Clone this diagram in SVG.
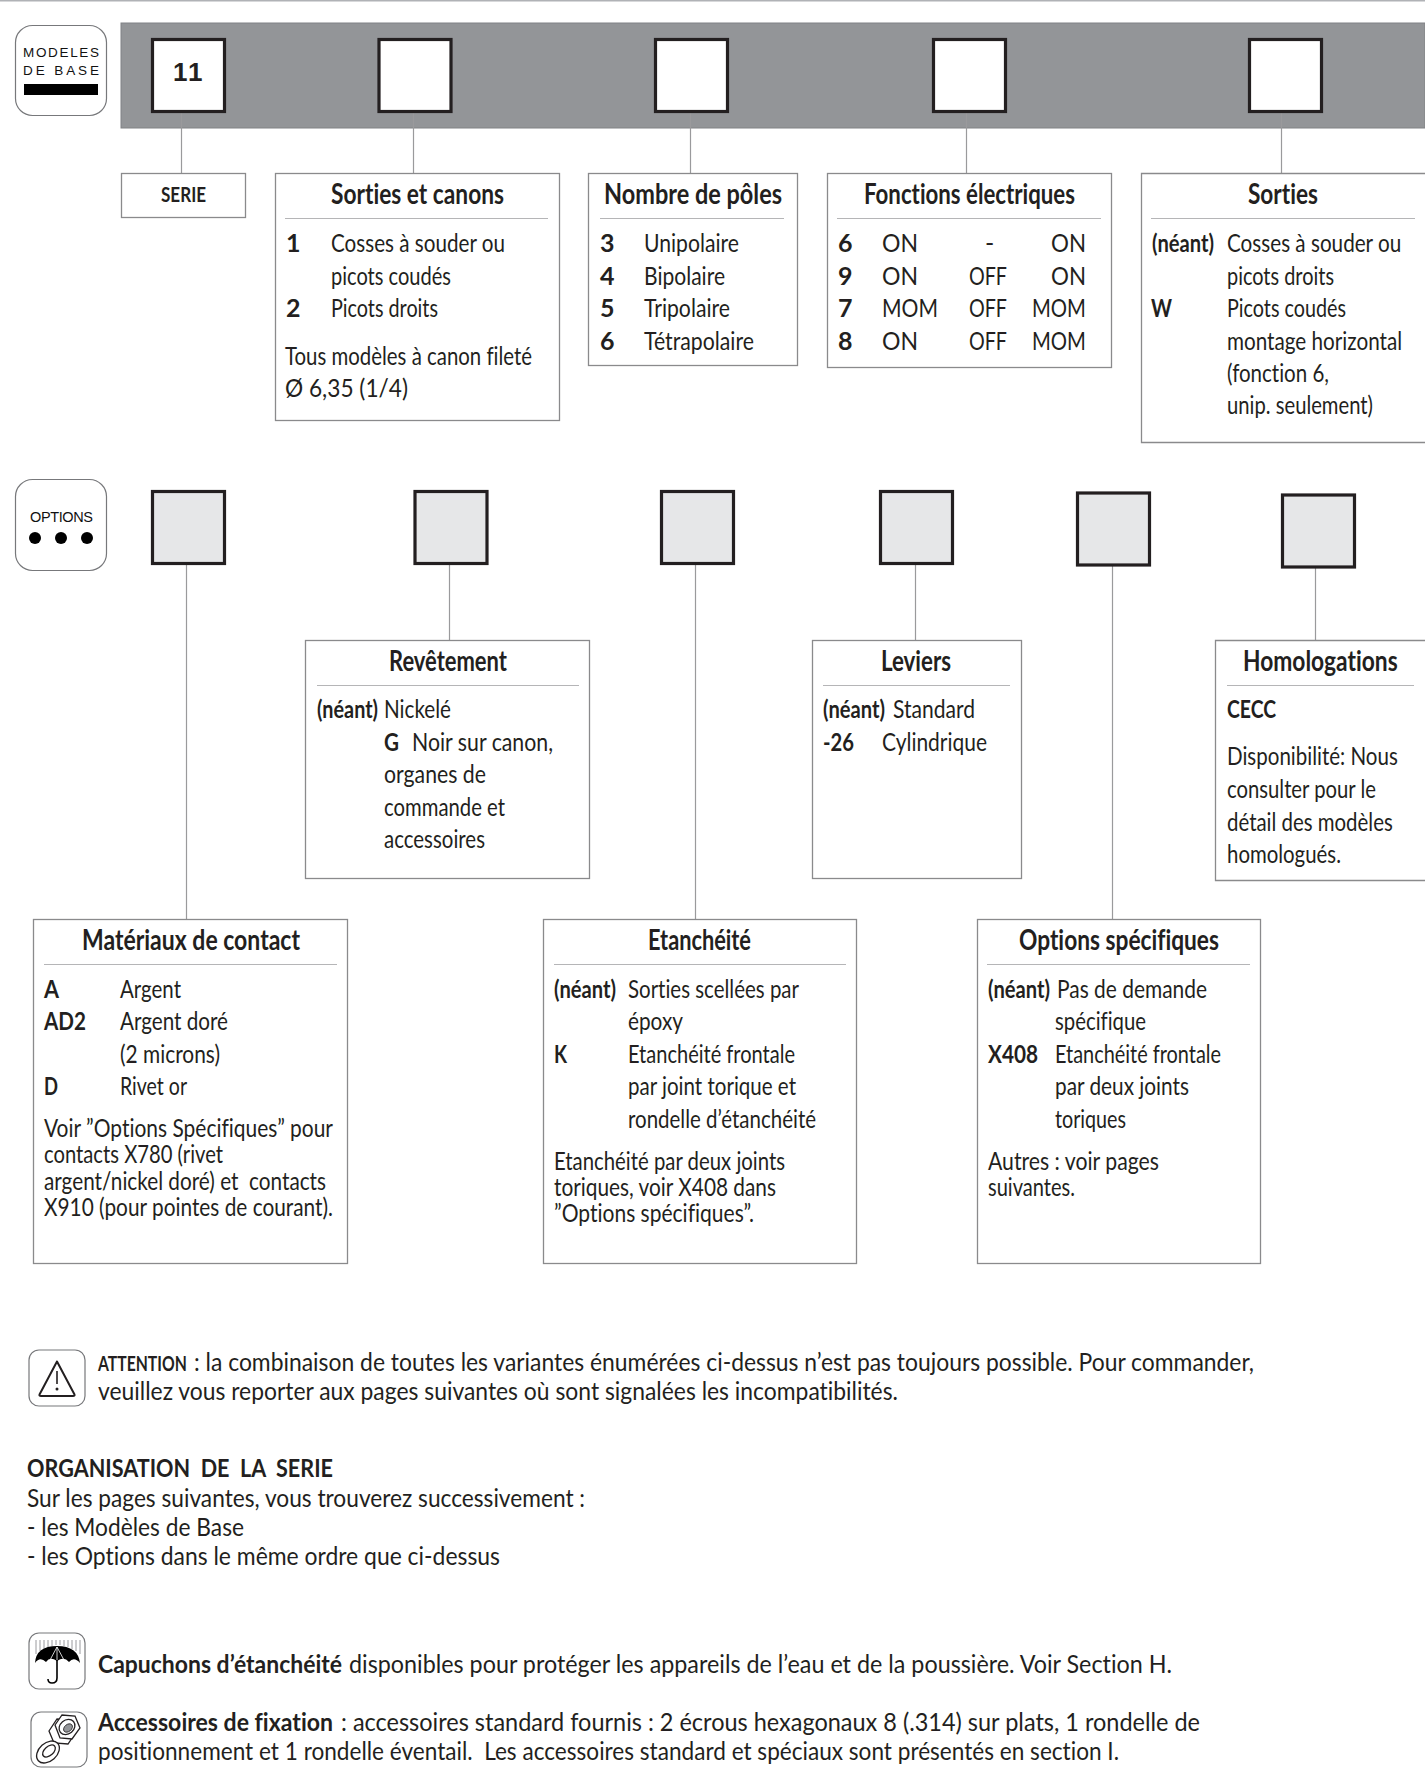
<svg xmlns="http://www.w3.org/2000/svg" width="1425" height="1788" viewBox="0 0 1425 1788">
<style>
text{font-family:"Lato","Liberation Sans",sans-serif;fill:#231f20;font-size:25px;font-variant-ligatures:none}
.t{font-size:28px;font-weight:700}
.b{font-weight:700}
.s{font-size:25.5px}
.h{font-family:"Liberation Sans",Arial,sans-serif;fill:#111;font-size:13.5px}
.box{fill:#fff;stroke:#8a8a8c;stroke-width:1.3}
.div{stroke:#b5b5b7;stroke-width:1.2;fill:none}
.w{fill:#fff;stroke:#231f20;stroke-width:3.2}
.g{fill:#e6e7e8;stroke:#231f20;stroke-width:3.2}
.c{stroke:#9a9a9c;stroke-width:1.2;fill:none}
.ic{fill:#fff;stroke:#77787b;stroke-width:1.2}
</style>
<rect x="0" y="0" width="1425" height="1.5" fill="#b0b2b6"/>
<g id="band"><rect x="121" y="23" width="1304" height="105" fill="#939598" stroke="#808285"/></g>
<g id="connectors">
<path class="c" d="M181.500 113V173M413.500 113V173M690.500 113V173M966.500 113V173M1281.500 113V173"/>
<path class="c" d="M186.500 565V919M449.500 565V640M695.500 565V919M915.500 565V640M1112.500 565V919M1315.500 567V640"/>
</g>
<g id="badge-modeles"><rect class="ic" x="15.500" y="25.500" width="91" height="90" rx="17"/>
<text class="h" x="23" y="57" textLength="76" lengthAdjust="spacing">MODELES</text>
<text class="h" x="23" y="75" textLength="76" lengthAdjust="spacing">DE BASE</text>
<rect x="24" y="84" width="74" height="11" fill="#000"/></g>
<g id="badge-options"><rect class="ic" x="15.500" y="479.500" width="91" height="91" rx="17"/>
<text class="h" x="30" y="522" textLength="63" style="font-size:14.500px">OPTIONS</text>
<circle cx="35" cy="538" r="6" fill="#000"/><circle cx="61" cy="538" r="6" fill="#000"/><circle cx="87" cy="538" r="6" fill="#000"/></g>
<g id="base-1"><rect class="w" x="152.500" y="39.500" width="72" height="72"/><text style="font-family:'Liberation Sans',sans-serif;font-size:26px;font-weight:700;letter-spacing:2px" x="173" y="81">11</text></g>
<g id="base-2"><rect class="w" x="379" y="39.500" width="72" height="72"/></g>
<g id="base-3"><rect class="w" x="655.500" y="39.500" width="72" height="72"/></g>
<g id="base-4"><rect class="w" x="933.500" y="39.500" width="72" height="72"/></g>
<g id="base-5"><rect class="w" x="1249.500" y="39.500" width="72" height="72"/></g>
<g id="opt-1"><rect class="g" x="152.500" y="491.500" width="72" height="72"/></g>
<g id="opt-2"><rect class="g" x="415" y="491.500" width="72" height="72"/></g>
<g id="opt-3"><rect class="g" x="661.500" y="491.500" width="72" height="72"/></g>
<g id="opt-4"><rect class="g" x="880.500" y="491.500" width="72" height="72"/></g>
<g id="opt-5"><rect class="g" x="1077.500" y="493" width="72" height="72"/></g>
<g id="opt-6"><rect class="g" x="1282.500" y="495" width="72" height="72"/></g>

<g id="serie"><rect class="box" x="121.500" y="173.500" width="124" height="44"/><text class="b" style="font-size:21px" x="161" y="202" textLength="45" lengthAdjust="spacingAndGlyphs">SERIE</text></g>

<g id="sorties-canons"><rect class="box" x="275.500" y="173.500" width="284" height="247"/><path class="div" d="M285 218.500H548"/>
<text class="t" x="331" y="204" textLength="173" lengthAdjust="spacingAndGlyphs">Sorties et canons</text>
<text class="b" x="286" y="252">1</text><text x="331" y="252" textLength="174" lengthAdjust="spacingAndGlyphs">Cosses à souder ou</text>
<text x="331" y="285" textLength="120" lengthAdjust="spacingAndGlyphs">picots coudés</text>
<text class="b" x="286" y="317">2</text><text x="331" y="317" textLength="107" lengthAdjust="spacingAndGlyphs">Picots droits</text>
<text x="285" y="365" textLength="247" lengthAdjust="spacingAndGlyphs">Tous modèles à canon fileté</text>
<text x="285" y="397" textLength="123" lengthAdjust="spacingAndGlyphs">Ø 6,35 (1/4)</text></g>

<g id="nombre-poles"><rect class="box" x="588.500" y="173.500" width="209" height="192"/><path class="div" d="M600 218.500H784"/>
<text class="t" x="604" y="204" textLength="178" lengthAdjust="spacingAndGlyphs">Nombre de pôles</text>
<text class="b" x="600" y="252">3</text><text x="644" y="252" textLength="95" lengthAdjust="spacingAndGlyphs">Unipolaire</text>
<text class="b" x="600" y="285">4</text><text x="644" y="285" textLength="81" lengthAdjust="spacingAndGlyphs">Bipolaire</text>
<text class="b" x="600" y="317">5</text><text x="644" y="317" textLength="86" lengthAdjust="spacingAndGlyphs">Tripolaire</text>
<text class="b" x="600" y="350">6</text><text x="644" y="350" textLength="110" lengthAdjust="spacingAndGlyphs">Tétrapolaire</text></g>

<g id="fonctions"><rect class="box" x="827.500" y="173.500" width="284" height="194"/><path class="div" d="M837 218.500H1101"/>
<text class="t" x="864" y="204" textLength="211" lengthAdjust="spacingAndGlyphs">Fonctions électriques</text>
<text class="b" x="838" y="252">6</text><text x="882" y="252" textLength="36" lengthAdjust="spacingAndGlyphs">ON</text><text x="985" y="252">-</text><text x="1051" y="252" textLength="35" lengthAdjust="spacingAndGlyphs">ON</text>
<text class="b" x="838" y="285">9</text><text x="882" y="285" textLength="36" lengthAdjust="spacingAndGlyphs">ON</text><text x="969" y="285" textLength="38" lengthAdjust="spacingAndGlyphs">OFF</text><text x="1051" y="285" textLength="35" lengthAdjust="spacingAndGlyphs">ON</text>
<text class="b" x="838" y="317">7</text><text x="882" y="317" textLength="56" lengthAdjust="spacingAndGlyphs">MOM</text><text x="969" y="317" textLength="38" lengthAdjust="spacingAndGlyphs">OFF</text><text x="1032" y="317" textLength="54" lengthAdjust="spacingAndGlyphs">MOM</text>
<text class="b" x="838" y="350">8</text><text x="882" y="350" textLength="36" lengthAdjust="spacingAndGlyphs">ON</text><text x="969" y="350" textLength="38" lengthAdjust="spacingAndGlyphs">OFF</text><text x="1032" y="350" textLength="54" lengthAdjust="spacingAndGlyphs">MOM</text></g>

<g id="sorties"><path class="box" d="M1425 173.500H1141.500V442.500H1425"/><path class="div" d="M1151 218.500H1415"/>
<text class="t" x="1248" y="204" textLength="70" lengthAdjust="spacingAndGlyphs">Sorties</text>
<text class="b" x="1152" y="252" textLength="62" lengthAdjust="spacingAndGlyphs">(néant)</text><text transform="translate(1227 252) scale(.85 1)" x="0" y="0" textLength="205" lengthAdjust="spacingAndGlyphs">Cosses à souder ou</text>
<text x="1227" y="285" textLength="107" lengthAdjust="spacingAndGlyphs">picots droits</text>
<text class="b" x="1151" y="317" textLength="21" lengthAdjust="spacingAndGlyphs">W</text><text x="1227" y="317" textLength="119" lengthAdjust="spacingAndGlyphs">Picots coudés</text>
<text transform="translate(1227 350) scale(.85 1)" x="0" y="0" textLength="206" lengthAdjust="spacingAndGlyphs">montage horizontal</text>
<text x="1227" y="382" textLength="102" lengthAdjust="spacingAndGlyphs">(fonction 6,</text>
<text x="1227" y="414" textLength="146" lengthAdjust="spacingAndGlyphs">unip. seulement)</text></g>

<g id="revetement"><rect class="box" x="305.500" y="640.500" width="284" height="238"/><path class="div" d="M317 685.500H579"/>
<text class="t" x="389" y="671" textLength="118" lengthAdjust="spacingAndGlyphs">Revêtement</text>
<text class="b" x="317" y="718" textLength="61" lengthAdjust="spacingAndGlyphs">(néant)</text><text x="384" y="718" textLength="67" lengthAdjust="spacingAndGlyphs">Nickelé</text>
<text class="b" x="384" y="751" textLength="15" lengthAdjust="spacingAndGlyphs">G</text><text x="412" y="751" textLength="141" lengthAdjust="spacingAndGlyphs">Noir sur canon,</text>
<text x="384" y="783" textLength="102" lengthAdjust="spacingAndGlyphs">organes de</text>
<text x="384" y="816" textLength="121" lengthAdjust="spacingAndGlyphs">commande et</text>
<text x="384" y="848" textLength="101" lengthAdjust="spacingAndGlyphs">accessoires</text></g>

<g id="leviers"><rect class="box" x="812.500" y="640.500" width="209" height="238"/><path class="div" d="M823 685.500H1010"/>
<text class="t" x="881" y="671" textLength="70" lengthAdjust="spacingAndGlyphs">Leviers</text>
<text class="b" x="823" y="718" textLength="62" lengthAdjust="spacingAndGlyphs">(néant)</text><text x="893" y="718" textLength="82" lengthAdjust="spacingAndGlyphs">Standard</text>
<text class="b" x="823" y="751" textLength="31" lengthAdjust="spacingAndGlyphs">-26</text><text x="882" y="751" textLength="105" lengthAdjust="spacingAndGlyphs">Cylindrique</text></g>

<g id="homologations"><path class="box" d="M1425 640.500H1215.500V880.500H1425"/><path class="div" d="M1227 685.500H1414"/>
<text class="t" transform="translate(1243 671) scale(.85 1)" x="0" y="0" textLength="182" lengthAdjust="spacingAndGlyphs">Homologations</text>
<text class="b" x="1227" y="718" textLength="49" lengthAdjust="spacingAndGlyphs">CECC</text>
<text transform="translate(1227 765) scale(.85 1)" x="0" y="0" textLength="201" lengthAdjust="spacingAndGlyphs">Disponibilité: Nous</text>
<text x="1227" y="798" textLength="149" lengthAdjust="spacingAndGlyphs">consulter pour le</text>
<text transform="translate(1227 831) scale(.85 1)" x="0" y="0" textLength="195" lengthAdjust="spacingAndGlyphs">détail des modèles</text>
<text x="1227" y="863" textLength="114" lengthAdjust="spacingAndGlyphs">homologués.</text></g>

<g id="materiaux"><rect class="box" x="33.500" y="919.500" width="314" height="344"/><path class="div" d="M44 964.500H337"/>
<text class="t" x="82" y="950" textLength="218" lengthAdjust="spacingAndGlyphs">Matériaux de contact</text>
<text class="b" x="44" y="998" textLength="15" lengthAdjust="spacingAndGlyphs">A</text><text x="120" y="998" textLength="61" lengthAdjust="spacingAndGlyphs">Argent</text>
<text class="b" x="44" y="1030" textLength="42" lengthAdjust="spacingAndGlyphs">AD2</text><text x="120" y="1030" textLength="108" lengthAdjust="spacingAndGlyphs">Argent doré</text>
<text x="120" y="1063" textLength="100" lengthAdjust="spacingAndGlyphs">(2 microns)</text>
<text class="b" x="44" y="1095" textLength="14" lengthAdjust="spacingAndGlyphs">D</text><text x="120" y="1095" textLength="67" lengthAdjust="spacingAndGlyphs">Rivet or</text>
<text x="44" y="1137" textLength="289" lengthAdjust="spacingAndGlyphs">Voir ”Options Spécifiques” pour</text>
<text x="44" y="1163" textLength="179" lengthAdjust="spacingAndGlyphs">contacts X780 (rivet</text>
<text x="44" y="1190" textLength="282" lengthAdjust="spacingAndGlyphs" xml:space="preserve">argent/nickel doré) et  contacts</text>
<text x="44" y="1216" textLength="289" lengthAdjust="spacingAndGlyphs">X910 (pour pointes de courant).</text></g>

<g id="etancheite"><rect class="box" x="543.500" y="919.500" width="313" height="344"/><path class="div" d="M554 964.500H846"/>
<text class="t" x="648" y="950" textLength="103" lengthAdjust="spacingAndGlyphs">Etanchéité</text>
<text class="b" x="554" y="998" textLength="62" lengthAdjust="spacingAndGlyphs">(néant)</text><text x="628" y="998" textLength="171" lengthAdjust="spacingAndGlyphs">Sorties scellées par</text>
<text x="628" y="1030" textLength="55" lengthAdjust="spacingAndGlyphs">époxy</text>
<text class="b" x="554" y="1063" textLength="13" lengthAdjust="spacingAndGlyphs">K</text><text x="628" y="1063" textLength="167" lengthAdjust="spacingAndGlyphs">Etanchéité frontale</text>
<text x="628" y="1095" textLength="168" lengthAdjust="spacingAndGlyphs">par joint torique et</text>
<text x="628" y="1128" textLength="188" lengthAdjust="spacingAndGlyphs">rondelle d’étanchéité</text>
<text x="554" y="1170" textLength="231" lengthAdjust="spacingAndGlyphs">Etanchéité par deux joints</text>
<text x="554" y="1196" textLength="222" lengthAdjust="spacingAndGlyphs">toriques, voir X408 dans</text>
<text x="554" y="1222" textLength="200" lengthAdjust="spacingAndGlyphs">”Options spécifiques”.</text></g>

<g id="options-specifiques"><rect class="box" x="977.500" y="919.500" width="283" height="344"/><path class="div" d="M987 964.500H1250"/>
<text class="t" x="1019" y="950" textLength="200" lengthAdjust="spacingAndGlyphs">Options spécifiques</text>
<text class="b" x="988" y="998" textLength="62" lengthAdjust="spacingAndGlyphs">(néant)</text><text x="1057" y="998" textLength="150" lengthAdjust="spacingAndGlyphs">Pas de demande</text>
<text x="1055" y="1030" textLength="91" lengthAdjust="spacingAndGlyphs">spécifique</text>
<text class="b" x="988" y="1063" textLength="50" lengthAdjust="spacingAndGlyphs">X408</text><text x="1055" y="1063" textLength="166" lengthAdjust="spacingAndGlyphs">Etanchéité frontale</text>
<text x="1055" y="1095" textLength="134" lengthAdjust="spacingAndGlyphs">par deux joints</text>
<text x="1055" y="1128" textLength="71" lengthAdjust="spacingAndGlyphs">toriques</text>
<text x="988" y="1170" textLength="171" lengthAdjust="spacingAndGlyphs">Autres : voir pages</text>
<text x="988" y="1196" textLength="87" lengthAdjust="spacingAndGlyphs">suivantes.</text></g>

<g id="attention"><rect class="ic" x="29" y="1350" width="56" height="56" rx="10"/>
<path d="M57 1361.500L39.500 1394.500Q39 1396 41 1396H73Q75 1396 74.500 1394.500Z" fill="none" stroke="#231f20" stroke-width="2" stroke-linejoin="round"/>
<path d="M57 1371V1384" stroke="#231f20" stroke-width="1.600"/><circle cx="57" cy="1389" r="1.500" fill="#231f20"/>
<text class="b" transform="translate(98 1371) scale(.8 1)" style="font-size:20px" x="0" y="0" textLength="111" lengthAdjust="spacingAndGlyphs">ATTENTION</text>
<text class="s" x="194" y="1371" textLength="1060" lengthAdjust="spacingAndGlyphs">: la combinaison de toutes les variantes énumérées ci-dessus n’est pas toujours possible. Pour commander,</text>
<text class="s" x="98" y="1400" textLength="800" lengthAdjust="spacingAndGlyphs">veuillez vous reporter aux pages suivantes où sont signalées les incompatibilités.</text></g>

<g id="organisation">
<text class="b s" x="27" y="1477" textLength="306" lengthAdjust="spacingAndGlyphs" xml:space="preserve">ORGANISATION  DE  LA  SERIE</text>
<text class="s" x="27" y="1507" textLength="558" lengthAdjust="spacingAndGlyphs">Sur les pages suivantes, vous trouverez successivement :</text>
<text class="s" x="27" y="1536" textLength="217" lengthAdjust="spacingAndGlyphs">- les Modèles de Base</text>
<text class="s" x="27" y="1565" textLength="473" lengthAdjust="spacingAndGlyphs">- les Options dans le même ordre que ci-dessus</text></g>

<g id="capuchons"><rect class="ic" x="29" y="1633" width="56" height="56" rx="10"/>
<path d="M36 1640V1654M40 1640V1651M44 1640V1649M48 1640V1647M52 1640V1646M56 1640V1645M60 1640V1645M64 1640V1646M68 1640V1647M72 1640V1649M76 1640V1651M80 1640V1654" stroke="#808285" stroke-width="0.800" fill="none"/>
<path d="M35 1663Q36 1646 57 1646Q78 1646 80 1663Q74 1656 69 1662Q64 1656 57 1661Q50 1656 46 1662Q40 1656 35 1663Z" fill="#000"/>
<path d="M57 1647L50 1660M57 1647L64 1660M57 1647V1660" stroke="#fff" stroke-width="0.800" fill="none"/>
<path d="M57 1660V1678Q57 1683 52 1683Q48 1683 48 1679" fill="none" stroke="#000" stroke-width="1.600"/>
<text class="b s" x="98" y="1673" textLength="244" lengthAdjust="spacingAndGlyphs">Capuchons d’étanchéité</text>
<text class="s" x="349" y="1673" textLength="823" lengthAdjust="spacingAndGlyphs">disponibles pour protéger les appareils de l’eau et de la poussière. Voir Section H.</text></g>

<g id="accessoires"><rect class="ic" x="31" y="1712" width="56" height="55" rx="10"/>
<path d="M52 1727L60 1715L74 1716L79 1728L71 1740L57 1739Z" fill="#fff" stroke="#231f20" stroke-width="1.300" transform="translate(-3 4)"/>
<path d="M55 1725L62 1715L75 1716L80 1728L72 1739L60 1738Z" fill="#fff" stroke="#231f20" stroke-width="1.300"/>
<ellipse cx="67" cy="1727" rx="8.500" ry="7" transform="rotate(-40 67 1727)" fill="#fff" stroke="#231f20" stroke-width="1.300"/>
<ellipse cx="68" cy="1728" rx="5" ry="3.500" transform="rotate(-40 68 1728)" fill="#939598" stroke="#231f20" stroke-width="0.800"/>
<ellipse cx="48" cy="1752" rx="13" ry="9" transform="rotate(-42 48 1752)" fill="#fff" stroke="#231f20" stroke-width="1.300"/>
<ellipse cx="49" cy="1751" rx="7.500" ry="4.500" transform="rotate(-42 49 1751)" fill="#fff" stroke="#231f20" stroke-width="1.300"/>
<text class="b s" x="98" y="1731" textLength="235" lengthAdjust="spacingAndGlyphs">Accessoires de fixation</text>
<text class="s" x="341" y="1731" textLength="859" lengthAdjust="spacingAndGlyphs">: accessoires standard fournis : 2 écrous hexagonaux 8 (.314) sur plats, 1 rondelle de</text>
<text class="s" x="98" y="1760" textLength="1021" lengthAdjust="spacingAndGlyphs" xml:space="preserve">positionnement et 1 rondelle éventail.  Les accessoires standard et spéciaux sont présentés en section I.</text></g>
</svg>
